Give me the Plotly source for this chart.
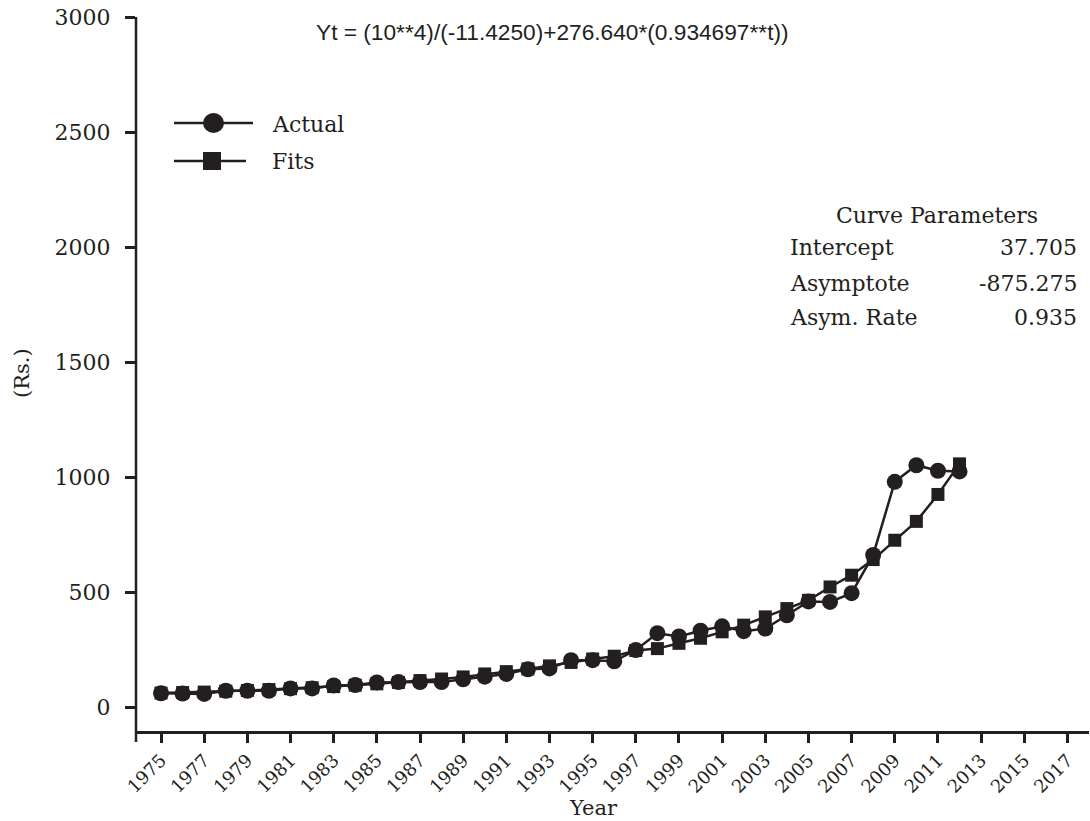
import plotly.graph_objects as go

years = list(range(1975, 2013))
actual = [61, 60, 58, 72, 72, 72, 82, 82, 95, 97, 108, 110, 110, 110, 122, 133, 145, 165, 169,
          205, 205, 200, 249, 322, 308, 333, 352, 331, 342, 400, 460, 458, 496, 662, 980, 1052, 1028, 1025]
fits = [62, 64, 66, 70, 73, 77, 81, 85, 90, 96, 102, 108, 116, 123, 132, 145, 155, 167, 180,
        195, 210, 222, 247, 255, 278, 300, 328, 357, 393, 429, 465, 523, 574, 642, 726, 808, 925, 1058]

equation = "Yt = (10**4)/(-11.4250)+276.640*(0.934697**t))"
param_names = ["Intercept", "Asymptote", "Asym. Rate"]
param_values = ["37.705", "-875.275", "0.935"]

INK = "#231f20"
SERIF = "DejaVu Serif"

fig = go.Figure()
fig.add_trace(go.Scatter(x=years, y=fits, mode="lines+markers", name="Fits",
                         line=dict(color=INK, width=2.5),
                         marker=dict(symbol="square", size=13, color=INK)))
fig.add_trace(go.Scatter(x=years, y=actual, mode="lines+markers", name="Actual",
                         line=dict(color=INK, width=2.5),
                         marker=dict(symbol="circle", size=16, color=INK)))

W, H = 1090, 821
ml, mr, mt, mb = 136, 1, 17, 90
pw, ph = W - ml - mr, H - mt - mb

def px(x):
    return (x - ml) / pw

def py(y):
    return (H - mb - y) / ph

shapes = []
# y-axis line extending slightly below the x axis
shapes.append(dict(type="line", xref="paper", yref="paper", x0=0, x1=0, y0=py(742), y1=1,
                   line=dict(color=INK, width=2.5)))
# legend samples
shapes.append(dict(type="line", xref="paper", yref="paper", x0=px(174), x1=px(253),
                   y0=py(123), y1=py(123), line=dict(color=INK, width=2.5)))
shapes.append(dict(type="circle", xref="paper", yref="paper", x0=px(203), x1=px(224),
                   y0=py(133), y1=py(113), fillcolor=INK, line=dict(color=INK, width=0)))
shapes.append(dict(type="line", xref="paper", yref="paper", x0=px(174), x1=px(246),
                   y0=py(161), y1=py(161), line=dict(color=INK, width=2.5)))
shapes.append(dict(type="rect", xref="paper", yref="paper", x0=px(203), x1=px(221),
                   y0=py(170), y1=py(152), fillcolor=INK, line=dict(color=INK, width=0)))

def ann(text, x, y, xanchor="center", size=22, family=SERIF, angle=0):
    return dict(text=text, xref="paper", yref="paper", x=px(x), y=py(y),
                xanchor=xanchor, yanchor="middle", showarrow=False, textangle=angle,
                font=dict(family=family, size=size, color=INK))

annotations = [
    ann("Actual", 270, 124, "left"),
    ann("Fits", 270, 162, "left"),
    ann(equation, 552, 32, "center", size=22.7, family="Liberation Sans"),
    ann("Curve Parameters", 937, 215, "center"),
    ann("Year", 593, 808, "center", size=21),
    ann("(Rs.)", 22, 373, "center", size=21, angle=-90),
]
rows_y = [248, 283, 318]
for name, val, yy in zip(param_names, param_values, rows_y):
    annotations.append(ann(name, 788, yy, "left"))
    annotations.append(ann(val, 1079, yy, "right"))

fig.update_layout(
    width=W, height=H,
    margin=dict(l=ml, r=mr, t=mt, b=mb, pad=0),
    plot_bgcolor="white", paper_bgcolor="white",
    showlegend=False,
    shapes=shapes, annotations=annotations,
    xaxis=dict(range=[1973.84, 2018.0], tick0=1975, dtick=2, tickangle=-45, automargin=False,
               showgrid=False, zeroline=False, showline=True, linecolor=INK, linewidth=2.5,
               ticks="outside", ticklen=9, tickwidth=2.5, tickcolor=INK,
               tickfont=dict(family=SERIF, size=18, color=INK)),
    yaxis=dict(range=[-103, 3000], tickvals=[0, 500, 1000, 1500, 2000, 2500, 3000], automargin=False,
               showgrid=False, zeroline=False, showline=False,
               ticks="outside", ticklen=10, tickwidth=2.5, tickcolor=INK,
               ticklabelstandoff=10,
               tickfont=dict(family=SERIF, size=22, color=INK)),
)

fig.write_html("out.html", config={"displayModeBar": False},
               post_script="document.body.style.margin='0';document.body.style.overflow='hidden';")
